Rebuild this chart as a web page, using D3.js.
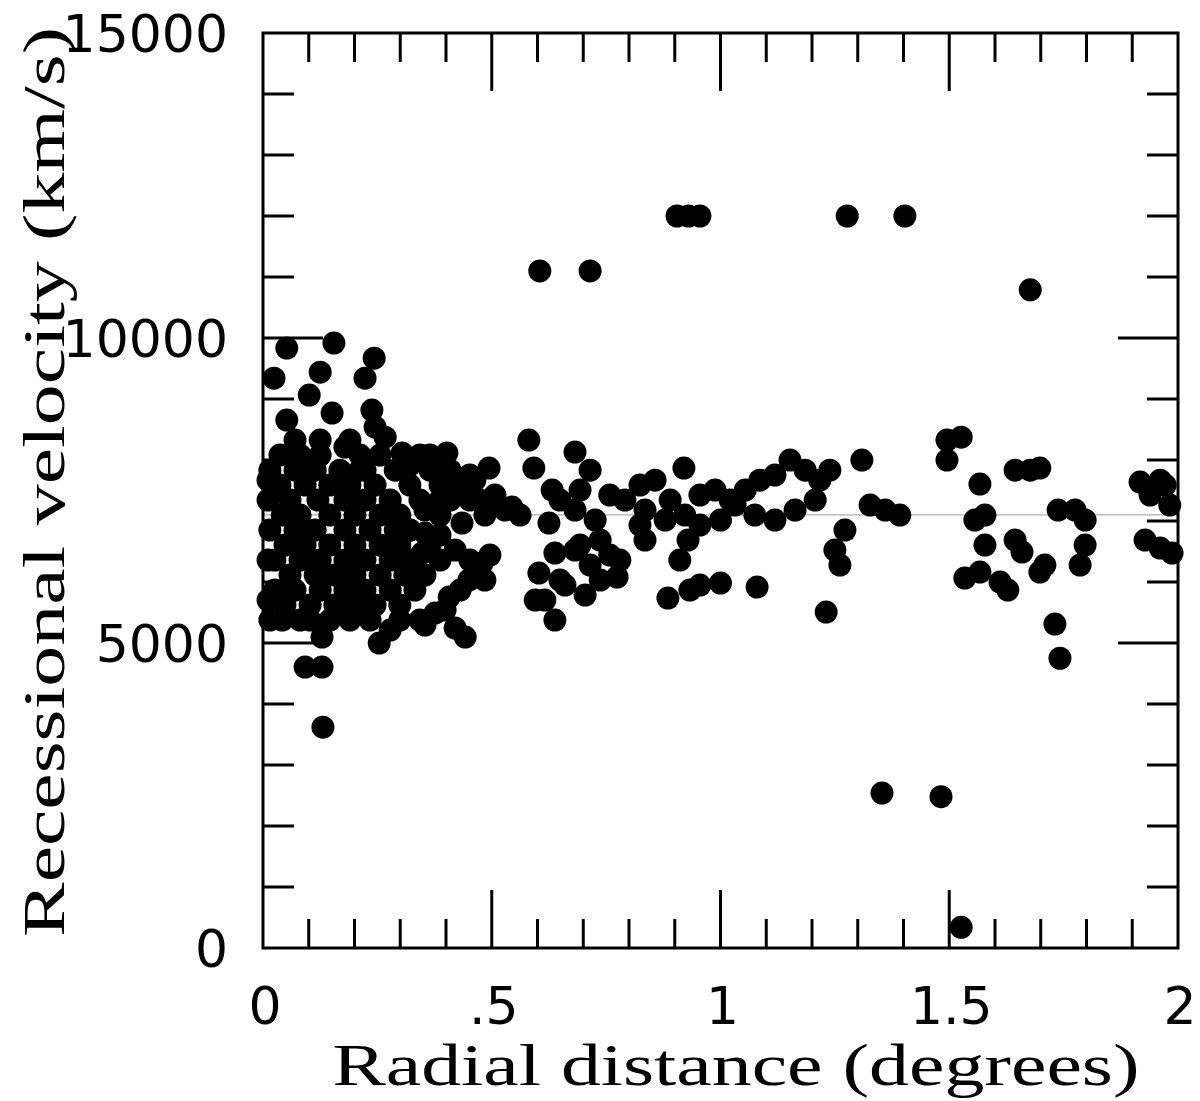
<!DOCTYPE html>
<html lang="en">
<head>
<meta charset="UTF-8">
<title>Recessional velocity vs radial distance</title>
<style>
  body { margin: 0; background: #fff; }
  svg { display: block; }
  .tick-label { font-family: "DejaVu Sans", sans-serif; font-size: 52px; fill: #000; }
  .axis-title { font-family: "Liberation Serif", serif; font-size: 60px; fill: #000; }
</style>
</head>
<body>
<div id="chart"></div>
<script src="https://cdn.jsdelivr.net/npm/d3@7"></script>
<script>
// radial distance (degrees) and recessional velocity (km/s), one entry per galaxy
var distance = [
  0.605, 0.715, 0.905, 0.930, 0.955, 1.277, 1.403, 1.677, 0.131, 1.353, 1.482, 1.526, 1.742, 1.731,
  0.052, 0.155, 0.243, 0.223, 0.125, 0.024, 0.101, 0.052, 0.070, 0.151, 0.238, 0.245, 0.267, 0.179,
  0.304, 0.402, 0.494, 0.463, 0.544, 0.581, 0.592, 0.632, 0.625, 0.435, 0.354, 0.348, 0.479, 0.450,
  0.407, 0.376, 0.442, 0.254, 0.129, 0.129, 0.092, 0.042, 0.603, 0.595, 0.638, 0.638,
  0.037, 0.081, 0.125, 0.212, 0.256, 0.343,
  0.015, 0.070, 0.114, 0.168, 0.223, 0.289, 0.365, 0.409,
  0.037, 0.092, 0.146, 0.190, 0.245, 0.321, 0.387, 0.420,
  0.011, 0.059, 0.120, 0.179, 0.223, 0.278, 0.343, 0.409, 0.452, 0.507,
  0.042, 0.081, 0.146, 0.201, 0.256, 0.299, 0.387, 0.485,
  0.015, 0.070, 0.114, 0.179, 0.234, 0.289, 0.321,
  0.048, 0.092, 0.146, 0.201, 0.256, 0.299, 0.365,
  0.026, 0.081, 0.125, 0.179, 0.223, 0.278, 0.321, 0.387,
  0.059, 0.114, 0.157, 0.201, 0.256, 0.310, 0.354,
  0.026, 0.070, 0.125, 0.179, 0.223, 0.278, 0.332,
  0.048, 0.103, 0.157, 0.201, 0.245, 0.299,
  0.081, 0.146, 0.190, 0.234, 0.343,
  0.321, 0.365, 0.398, 0.431, 0.452, 0.474, 0.507, 0.529, 0.562, 0.387, 0.354, 0.321,
  0.387, 0.420, 0.452, 0.496, 0.431, 0.398, 0.354, 0.420, 0.332, 0.299, 0.278, 0.485,
  0.011, 0.011, 0.011, 0.015, 0.212, 0.179, 0.103, 0.190, 0.125,
  0.616, 0.649, 0.693, 0.780, 0.824, 0.737,
  0.682, 0.715, 0.758, 0.791, 0.824, 0.857, 0.890, 0.920, 0.955, 0.988, 1.021, 1.054, 1.086, 1.119,
  1.152, 1.185, 1.217, 1.239, 1.207, 1.163, 1.119, 1.075, 1.032, 1.000, 0.955, 0.922, 0.879, 0.835,
  0.726, 0.682, 0.649, 0.693, 0.835, 0.758, 0.715, 0.682, 0.660, 0.704, 0.737, 0.774, 0.911, 0.929,
  0.885, 0.933, 0.955, 1.000, 1.080, 1.231, 1.250, 1.261, 1.272, 1.309, 1.327, 1.360, 1.392,
  1.495, 1.526, 1.495, 1.567, 1.556, 1.578, 1.534, 1.567, 1.611, 1.628, 1.578, 1.644, 1.659, 1.644,
  1.677, 1.698, 1.698, 1.709, 1.738, 1.775, 1.797, 1.797, 1.786, 1.917, 1.939, 1.972, 1.982, 1.928,
  1.961, 1.987, 1.961
];
var velocity = [
  11100, 11100, 12000, 12000, 12000, 12000, 12000, 10790, 3620, 2540, 2480, 340, 4750, 5310,
  9835, 9916, 9670, 9342, 9440, 9342, 9064, 8654, 8326, 8769, 8818, 8540, 8375, 8212,
  8113, 8113, 7867, 7670, 7228, 8326, 7867, 7507, 6966, 6966, 6802, 6474, 6310, 6032,
  5753, 5491, 5097, 4999, 5097, 4605, 4605, 5376, 6146, 5704, 5376, 6474,
  8080, 8080, 8080, 8080, 8080, 8080,
  7834, 7834, 7834, 7834, 7834, 7834, 7834, 7834,
  7589, 7589, 7589, 7589, 7589, 7589, 7589, 7589,
  7343, 7343, 7343, 7343, 7343, 7343, 7343, 7343, 7343, 7343,
  7097, 7097, 7097, 7097, 7097, 7097, 7097, 7097,
  6851, 6851, 6851, 6851, 6851, 6851, 6851,
  6605, 6605, 6605, 6605, 6605, 6605, 6605,
  6359, 6359, 6359, 6359, 6359, 6359, 6359, 6359,
  6113, 6113, 6113, 6113, 6113, 6113, 6113,
  5868, 5868, 5868, 5868, 5868, 5868, 5868,
  5622, 5622, 5622, 5622, 5622, 5622,
  5376, 5376, 5376, 5376, 5376,
  7916, 8080, 7834, 7589, 7753, 7343, 7425, 7179, 7097, 7343, 7179, 6851,
  6769, 6523, 6359, 6441, 5868, 5540, 5294, 5245, 6032, 5376, 5212, 6032,
  7670, 6359, 5704, 5376, 7834, 5704, 5376, 8326, 8326,
  5704, 6032, 6605, 6359, 6933, 6687,
  8130, 7834, 7425, 7343, 7589, 7670, 7343, 7867, 7425, 7507, 7343, 7507, 7670, 7753,
  7998, 7834, 7670, 7834, 7343, 7179, 7015, 7097, 7261, 7015, 6933, 7097, 7015, 7179,
  7015, 7179, 7343, 7507, 6687, 6441, 6277, 6523, 5950, 5786, 6032, 6080, 6359, 6687,
  5737, 5868, 5950, 5983, 5917, 5508, 6523, 6277, 6851, 7998, 7261, 7179, 7097,
  8326, 8375, 7998, 7605, 7015, 7097, 6064, 6162, 5999, 5868, 6605, 6687, 6490, 7834,
  7834, 7867, 6162, 6277, 7179, 7179, 7015, 6605, 6277, 7638, 7425, 7589, 7261, 6687,
  6556, 6474, 7670
];
var xTicks = [0, 0.5, 1, 1.5, 2];
var xTickLabels = ["0", ".5", "1", "1.5", "2"];
var yTicks = [0, 5000, 10000, 15000];
var yTickLabels = ["0", "5000", "10000", "15000"];
var meanVelocity = 7100;

var W = 1200, H = 1101;
var margin = { top: 33, right: 22, bottom: 153, left: 263 };
var width = W - margin.left - margin.right,
    height = H - margin.top - margin.bottom;

var svg = d3.select("#chart").append("svg")
    .attr("width", W)
    .attr("height", H);

var g = svg.append("g")
    .attr("transform", "translate(" + margin.left + "," + margin.top + ")");

var x = d3.scaleLinear().domain([0, 2]).range([0, width]);
var y = d3.scaleLinear().domain([0, 15000]).range([height, 0]);

// faint reference line
g.append("line")
    .attr("x1", 0).attr("x2", width)
    .attr("y1", y(meanVelocity)).attr("y2", y(meanVelocity))
    .attr("stroke", "#999").attr("stroke-width", 1);

// points
g.selectAll("circle")
    .data(distance)
    .enter().append("circle")
    .attr("cx", function (d) { return x(d); })
    .attr("cy", function (d, i) { return y(velocity[i]); })
    .attr("r", 11.5)
    .attr("fill", "#000");

// frame
g.append("rect")
    .attr("width", width).attr("height", height)
    .attr("fill", "none").attr("stroke", "#000").attr("stroke-width", 3);

// ticks on all four sides (minor every 0.1 / 1000, major every 0.5 / 5000)
var xMinor = d3.range(1, 20).map(function (i) { return i / 10; });
var yMinor = d3.range(1, 15).map(function (i) { return i * 1000; });

function xLen(v) { return Math.abs(v * 2 - Math.round(v * 2)) < 1e-6 ? 58 : 29; }
function yLen(v) { return v % 5000 === 0 ? 60 : 31; }

g.selectAll(".xb").data(xMinor).enter().append("line")
    .attr("x1", x).attr("x2", x)
    .attr("y1", height).attr("y2", function (d) { return height - xLen(d); })
    .attr("stroke", "#000").attr("stroke-width", 3);
g.selectAll(".xt").data(xMinor).enter().append("line")
    .attr("x1", x).attr("x2", x)
    .attr("y1", 0).attr("y2", function (d) { return xLen(d); })
    .attr("stroke", "#000").attr("stroke-width", 3);
g.selectAll(".yl").data(yMinor).enter().append("line")
    .attr("y1", y).attr("y2", y)
    .attr("x1", 0).attr("x2", function (d) { return yLen(d); })
    .attr("stroke", "#000").attr("stroke-width", 3);
g.selectAll(".yr").data(yMinor).enter().append("line")
    .attr("y1", y).attr("y2", y)
    .attr("x1", width).attr("x2", function (d) { return width - yLen(d); })
    .attr("stroke", "#000").attr("stroke-width", 3);

// tick labels
g.selectAll(".xl").data(xTicks).enter().append("text")
    .attr("class", "tick-label")
    .attr("x", function (d) { return x(d) + 2; })
    .attr("y", height + 76)
    .attr("text-anchor", "middle")
    .text(function (d, i) { return xTickLabels[i]; });

g.selectAll(".ylab").data(yTicks).enter().append("text")
    .attr("class", "tick-label")
    .attr("x", -35)
    .attr("y", function (d) { return y(d) + 19; })
    .attr("text-anchor", "end")
    .text(function (d, i) { return yTickLabels[i]; });

// axis titles
svg.append("text")
    .attr("class", "axis-title")
    .attr("x", 736).attr("y", 1085)
    .attr("text-anchor", "middle")
    .attr("textLength", 807).attr("lengthAdjust", "spacingAndGlyphs")
    .text("Radial distance (degrees)");

svg.append("text")
    .attr("class", "axis-title")
    .attr("transform", "translate(64,482) rotate(-90)")
    .attr("text-anchor", "middle")
    .attr("textLength", 910).attr("lengthAdjust", "spacingAndGlyphs")
    .text("Recessional velocity (km/s)");
</script>
</body>
</html>
